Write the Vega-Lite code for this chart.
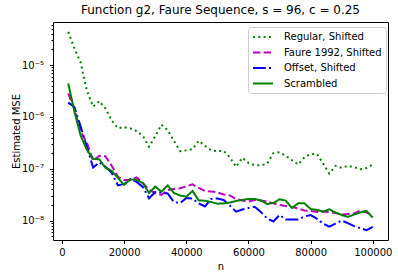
{
  "$schema": "https://vega.github.io/schema/vega-lite/v6.json",
  "width": 335,
  "height": 218,
  "autosize": {"type": "none"},
  "padding": {"left": 53, "top": 22, "right": 10, "bottom": 38},
  "background": "white",
  "title": {"text": "Function g2, Faure Sequence, s = 96, c = 0.25", "font": "DejaVu Sans", "fontSize": 12, "fontWeight": "normal", "color": "black", "offset": 5},
  "config": {
    "view": {"stroke": "black", "strokeWidth": 1},
    "axis": {"labelFont": "DejaVu Sans", "titleFont": "DejaVu Sans", "labelFontSize": 10, "titleFontSize": 10, "titleFontWeight": "normal", "labelColor": "black", "titleColor": "black", "tickColor": "black", "domain": false, "grid": false}
  },
  "data": {"values": [
    {"n":2000,"series":"Regular, Shifted","mse":4.36e-5},
    {"n":4000,"series":"Regular, Shifted","mse":2.1e-5},
    {"n":6000,"series":"Regular, Shifted","mse":1.12e-5},
    {"n":8000,"series":"Regular, Shifted","mse":3.23e-6},
    {"n":10000,"series":"Regular, Shifted","mse":1.58e-6},
    {"n":12000,"series":"Regular, Shifted","mse":2.02e-6},
    {"n":14000,"series":"Regular, Shifted","mse":1.45e-6},
    {"n":16000,"series":"Regular, Shifted","mse":8.48e-7},
    {"n":18000,"series":"Regular, Shifted","mse":6.07e-7},
    {"n":20000,"series":"Regular, Shifted","mse":6.34e-7},
    {"n":22000,"series":"Regular, Shifted","mse":6.01e-7},
    {"n":24000,"series":"Regular, Shifted","mse":5.31e-7},
    {"n":26000,"series":"Regular, Shifted","mse":4.34e-7},
    {"n":28000,"series":"Regular, Shifted","mse":2.66e-7},
    {"n":30000,"series":"Regular, Shifted","mse":4.25e-7},
    {"n":32000,"series":"Regular, Shifted","mse":7.09e-7},
    {"n":34000,"series":"Regular, Shifted","mse":5.55e-7},
    {"n":36000,"series":"Regular, Shifted","mse":3.47e-7},
    {"n":38000,"series":"Regular, Shifted","mse":2.19e-7},
    {"n":40000,"series":"Regular, Shifted","mse":2.27e-7},
    {"n":42000,"series":"Regular, Shifted","mse":2.38e-7},
    {"n":44000,"series":"Regular, Shifted","mse":3.47e-7},
    {"n":46000,"series":"Regular, Shifted","mse":2.78e-7},
    {"n":48000,"series":"Regular, Shifted","mse":2.27e-7},
    {"n":50000,"series":"Regular, Shifted","mse":2.19e-7},
    {"n":52000,"series":"Regular, Shifted","mse":2.22e-7},
    {"n":54000,"series":"Regular, Shifted","mse":1.66e-7},
    {"n":56000,"series":"Regular, Shifted","mse":1.09e-7},
    {"n":58000,"series":"Regular, Shifted","mse":1.63e-7},
    {"n":60000,"series":"Regular, Shifted","mse":1.3e-7},
    {"n":62000,"series":"Regular, Shifted","mse":1.17e-7},
    {"n":64000,"series":"Regular, Shifted","mse":1.17e-7},
    {"n":66000,"series":"Regular, Shifted","mse":1.24e-7},
    {"n":68000,"series":"Regular, Shifted","mse":1.99e-7},
    {"n":70000,"series":"Regular, Shifted","mse":2.08e-7},
    {"n":72000,"series":"Regular, Shifted","mse":1.78e-7},
    {"n":74000,"series":"Regular, Shifted","mse":1.46e-7},
    {"n":76000,"series":"Regular, Shifted","mse":1.21e-7},
    {"n":78000,"series":"Regular, Shifted","mse":1.66e-7},
    {"n":80000,"series":"Regular, Shifted","mse":1.92e-7},
    {"n":82000,"series":"Regular, Shifted","mse":1.94e-7},
    {"n":84000,"series":"Regular, Shifted","mse":1.27e-7},
    {"n":86000,"series":"Regular, Shifted","mse":8.07e-8},
    {"n":88000,"series":"Regular, Shifted","mse":1.14e-7},
    {"n":90000,"series":"Regular, Shifted","mse":1.04e-7},
    {"n":92000,"series":"Regular, Shifted","mse":1.14e-7},
    {"n":94000,"series":"Regular, Shifted","mse":1.07e-7},
    {"n":96000,"series":"Regular, Shifted","mse":9.82e-8},
    {"n":98000,"series":"Regular, Shifted","mse":1.03e-7},
    {"n":100000,"series":"Regular, Shifted","mse":1.21e-7},
    {"n":2000,"series":"Faure 1992, Shifted","mse":2.83e-6},
    {"n":4000,"series":"Faure 1992, Shifted","mse":1.39e-6},
    {"n":6000,"series":"Faure 1992, Shifted","mse":5.19e-7},
    {"n":8000,"series":"Faure 1992, Shifted","mse":3.18e-7},
    {"n":10000,"series":"Faure 1992, Shifted","mse":1.42e-7},
    {"n":12000,"series":"Faure 1992, Shifted","mse":1.78e-7},
    {"n":14000,"series":"Faure 1992, Shifted","mse":1.74e-7},
    {"n":16000,"series":"Faure 1992, Shifted","mse":1.14e-7},
    {"n":18000,"series":"Faure 1992, Shifted","mse":6.97e-8},
    {"n":20000,"series":"Faure 1992, Shifted","mse":6.09e-8},
    {"n":22000,"series":"Faure 1992, Shifted","mse":6.09e-8},
    {"n":24000,"series":"Faure 1992, Shifted","mse":6.81e-8},
    {"n":26000,"series":"Faure 1992, Shifted","mse":5.33e-8},
    {"n":28000,"series":"Faure 1992, Shifted","mse":3.9e-8},
    {"n":30000,"series":"Faure 1992, Shifted","mse":3.41e-8},
    {"n":32000,"series":"Faure 1992, Shifted","mse":3.12e-8},
    {"n":34000,"series":"Faure 1992, Shifted","mse":3.9e-8},
    {"n":36000,"series":"Faure 1992, Shifted","mse":4.08e-8},
    {"n":38000,"series":"Faure 1992, Shifted","mse":4.21e-8},
    {"n":40000,"series":"Faure 1992, Shifted","mse":4.56e-8},
    {"n":42000,"series":"Faure 1992, Shifted","mse":4.99e-8},
    {"n":44000,"series":"Faure 1992, Shifted","mse":4.26e-8},
    {"n":46000,"series":"Faure 1992, Shifted","mse":3.73e-8},
    {"n":48000,"series":"Faure 1992, Shifted","mse":3.65e-8},
    {"n":50000,"series":"Faure 1992, Shifted","mse":3.49e-8},
    {"n":52000,"series":"Faure 1992, Shifted","mse":3.19e-8},
    {"n":54000,"series":"Faure 1992, Shifted","mse":3.05e-8},
    {"n":56000,"series":"Faure 1992, Shifted","mse":2.61e-8},
    {"n":58000,"series":"Faure 1992, Shifted","mse":2.44e-8},
    {"n":60000,"series":"Faure 1992, Shifted","mse":2.33e-8},
    {"n":62000,"series":"Faure 1992, Shifted","mse":2.5e-8},
    {"n":64000,"series":"Faure 1992, Shifted","mse":2.44e-8},
    {"n":66000,"series":"Faure 1992, Shifted","mse":2.33e-8},
    {"n":68000,"series":"Faure 1992, Shifted","mse":2.15e-8},
    {"n":70000,"series":"Faure 1992, Shifted","mse":2.0e-8},
    {"n":72000,"series":"Faure 1992, Shifted","mse":1.91e-8},
    {"n":74000,"series":"Faure 1992, Shifted","mse":1.83e-8},
    {"n":76000,"series":"Faure 1992, Shifted","mse":1.71e-8},
    {"n":78000,"series":"Faure 1992, Shifted","mse":1.56e-8},
    {"n":80000,"series":"Faure 1992, Shifted","mse":1.53e-8},
    {"n":82000,"series":"Faure 1992, Shifted","mse":1.46e-8},
    {"n":84000,"series":"Faure 1992, Shifted","mse":1.48e-8},
    {"n":86000,"series":"Faure 1992, Shifted","mse":1.46e-8},
    {"n":88000,"series":"Faure 1992, Shifted","mse":1.4e-8},
    {"n":90000,"series":"Faure 1992, Shifted","mse":1.31e-8},
    {"n":92000,"series":"Faure 1992, Shifted","mse":1.34e-8},
    {"n":94000,"series":"Faure 1992, Shifted","mse":1.37e-8},
    {"n":96000,"series":"Faure 1992, Shifted","mse":1.56e-8},
    {"n":98000,"series":"Faure 1992, Shifted","mse":1.43e-8},
    {"n":100000,"series":"Faure 1992, Shifted","mse":1.28e-8},
    {"n":2000,"series":"Offset, Shifted","mse":1.89e-6},
    {"n":4000,"series":"Offset, Shifted","mse":1.55e-6},
    {"n":6000,"series":"Offset, Shifted","mse":6.49e-7},
    {"n":8000,"series":"Offset, Shifted","mse":2.66e-7},
    {"n":10000,"series":"Offset, Shifted","mse":1.06e-7},
    {"n":12000,"series":"Offset, Shifted","mse":1.33e-7},
    {"n":14000,"series":"Offset, Shifted","mse":1.09e-7},
    {"n":16000,"series":"Offset, Shifted","mse":8.33e-8},
    {"n":18000,"series":"Offset, Shifted","mse":4.77e-8},
    {"n":20000,"series":"Offset, Shifted","mse":5.1e-8},
    {"n":22000,"series":"Offset, Shifted","mse":6.37e-8},
    {"n":24000,"series":"Offset, Shifted","mse":5.57e-8},
    {"n":26000,"series":"Offset, Shifted","mse":4.46e-8},
    {"n":28000,"series":"Offset, Shifted","mse":2.69e-8},
    {"n":30000,"series":"Offset, Shifted","mse":3.57e-8},
    {"n":32000,"series":"Offset, Shifted","mse":3.49e-8},
    {"n":34000,"series":"Offset, Shifted","mse":3.34e-8},
    {"n":36000,"series":"Offset, Shifted","mse":2.28e-8},
    {"n":38000,"series":"Offset, Shifted","mse":2.18e-8},
    {"n":40000,"series":"Offset, Shifted","mse":2.73e-8},
    {"n":42000,"series":"Offset, Shifted","mse":2.67e-8},
    {"n":44000,"series":"Offset, Shifted","mse":2.14e-8},
    {"n":46000,"series":"Offset, Shifted","mse":1.87e-8},
    {"n":48000,"series":"Offset, Shifted","mse":2.61e-8},
    {"n":50000,"series":"Offset, Shifted","mse":2.67e-8},
    {"n":52000,"series":"Offset, Shifted","mse":2.5e-8},
    {"n":54000,"series":"Offset, Shifted","mse":1.95e-8},
    {"n":56000,"series":"Offset, Shifted","mse":1.49e-8},
    {"n":58000,"series":"Offset, Shifted","mse":1.63e-8},
    {"n":60000,"series":"Offset, Shifted","mse":1.75e-8},
    {"n":62000,"series":"Offset, Shifted","mse":1.85e-8},
    {"n":64000,"series":"Offset, Shifted","mse":1.46e-8},
    {"n":66000,"series":"Offset, Shifted","mse":1.1e-8},
    {"n":68000,"series":"Offset, Shifted","mse":9.6e-9},
    {"n":70000,"series":"Offset, Shifted","mse":1.28e-8},
    {"n":72000,"series":"Offset, Shifted","mse":1.05e-8},
    {"n":74000,"series":"Offset, Shifted","mse":1.05e-8},
    {"n":76000,"series":"Offset, Shifted","mse":1.05e-8},
    {"n":78000,"series":"Offset, Shifted","mse":1.2e-8},
    {"n":80000,"series":"Offset, Shifted","mse":1.28e-8},
    {"n":82000,"series":"Offset, Shifted","mse":1.09e-8},
    {"n":84000,"series":"Offset, Shifted","mse":8.75e-9},
    {"n":86000,"series":"Offset, Shifted","mse":7.65e-9},
    {"n":88000,"series":"Offset, Shifted","mse":8.75e-9},
    {"n":90000,"series":"Offset, Shifted","mse":1.0e-8},
    {"n":92000,"series":"Offset, Shifted","mse":8.94e-9},
    {"n":94000,"series":"Offset, Shifted","mse":7.82e-9},
    {"n":96000,"series":"Offset, Shifted","mse":7.16e-9},
    {"n":98000,"series":"Offset, Shifted","mse":6.55e-9},
    {"n":100000,"series":"Offset, Shifted","mse":7.58e-9},
    {"n":2000,"series":"Scrambled","mse":4.42e-6},
    {"n":4000,"series":"Scrambled","mse":1.27e-6},
    {"n":6000,"series":"Scrambled","mse":4.35e-7},
    {"n":8000,"series":"Scrambled","mse":2.32e-7},
    {"n":10000,"series":"Scrambled","mse":1.56e-7},
    {"n":12000,"series":"Scrambled","mse":1.52e-7},
    {"n":14000,"series":"Scrambled","mse":1.04e-7},
    {"n":16000,"series":"Scrambled","mse":9.1e-8},
    {"n":18000,"series":"Scrambled","mse":6.66e-8},
    {"n":20000,"series":"Scrambled","mse":4.88e-8},
    {"n":22000,"series":"Scrambled","mse":6.23e-8},
    {"n":24000,"series":"Scrambled","mse":6.09e-8},
    {"n":26000,"series":"Scrambled","mse":5.33e-8},
    {"n":28000,"series":"Scrambled","mse":3.41e-8},
    {"n":30000,"series":"Scrambled","mse":4.52e-8},
    {"n":32000,"series":"Scrambled","mse":3.61e-8},
    {"n":34000,"series":"Scrambled","mse":4.77e-8},
    {"n":36000,"series":"Scrambled","mse":3.41e-8},
    {"n":38000,"series":"Scrambled","mse":3.05e-8},
    {"n":40000,"series":"Scrambled","mse":2.89e-8},
    {"n":42000,"series":"Scrambled","mse":3.73e-8},
    {"n":44000,"series":"Scrambled","mse":2.44e-8},
    {"n":46000,"series":"Scrambled","mse":2.42e-8},
    {"n":48000,"series":"Scrambled","mse":2.28e-8},
    {"n":50000,"series":"Scrambled","mse":2.12e-8},
    {"n":52000,"series":"Scrambled","mse":2.14e-8},
    {"n":54000,"series":"Scrambled","mse":2.23e-8},
    {"n":56000,"series":"Scrambled","mse":2.39e-8},
    {"n":58000,"series":"Scrambled","mse":2.5e-8},
    {"n":60000,"series":"Scrambled","mse":2.61e-8},
    {"n":62000,"series":"Scrambled","mse":2.61e-8},
    {"n":64000,"series":"Scrambled","mse":2.44e-8},
    {"n":66000,"series":"Scrambled","mse":2.09e-8},
    {"n":68000,"series":"Scrambled","mse":2.18e-8},
    {"n":70000,"series":"Scrambled","mse":2.58e-8},
    {"n":72000,"series":"Scrambled","mse":2.42e-8},
    {"n":74000,"series":"Scrambled","mse":1.75e-8},
    {"n":76000,"series":"Scrambled","mse":2.15e-8},
    {"n":78000,"series":"Scrambled","mse":2.15e-8},
    {"n":80000,"series":"Scrambled","mse":1.67e-8},
    {"n":82000,"series":"Scrambled","mse":1.61e-8},
    {"n":84000,"series":"Scrambled","mse":1.49e-8},
    {"n":86000,"series":"Scrambled","mse":1.65e-8},
    {"n":88000,"series":"Scrambled","mse":1.43e-8},
    {"n":90000,"series":"Scrambled","mse":1.28e-8},
    {"n":92000,"series":"Scrambled","mse":1.18e-8},
    {"n":94000,"series":"Scrambled","mse":1.31e-8},
    {"n":96000,"series":"Scrambled","mse":1.43e-8},
    {"n":98000,"series":"Scrambled","mse":1.53e-8},
    {"n":100000,"series":"Scrambled","mse":1.14e-8}
  ]},
  "mark": {"type": "line", "strokeWidth": 2, "strokeCap": "butt", "clip": true},
  "encoding": {
    "x": {"field": "n", "type": "quantitative",
      "scale": {"domain": [-2900, 104900], "nice": false, "zero": false},
      "axis": {"values": [0, 20000, 40000, 60000, 80000, 100000], "format": "d", "tickSize": 3.5, "labelPadding": 3.5, "title": "n", "titlePadding": 4}},
    "y": {"field": "mse", "type": "quantitative",
      "scale": {"type": "log", "domain": [4.22e-9, 6.78e-5], "nice": false, "zero": false},
      "axis": {"title": "Estimated MSE", "titlePadding": 0, "labelPadding": 6,
        "values": [5e-9, 6e-9, 7e-9, 8e-9, 9e-9, 1e-8, 2e-8, 3e-8, 4e-8, 5e-8, 6e-8, 7e-8, 8e-8, 9e-8, 1e-7, 2e-7, 3e-7, 4e-7, 5e-7, 6e-7, 7e-7, 8e-7, 9e-7, 1e-6, 2e-6, 3e-6, 4e-6, 5e-6, 6e-6, 7e-6, 8e-6, 9e-6, 1e-5, 2e-5, 3e-5, 4e-5, 5e-5, 6e-5],
        "tickSize": {"condition": {"test": "abs(log(datum.value)/LN10 - round(log(datum.value)/LN10)) < 0.001", "value": 3.5}, "value": 2},
        "labelExpr": "abs(log(datum.value)/LN10 - round(log(datum.value)/LN10)) < 0.001 ? '10' + replace(replace(replace(replace(replace('' + round(log(datum.value)/LN10), '-', '⁻'), '5', '⁵'), '6', '⁶'), '7', '⁷'), '8', '⁸') : ''"}},
    "color": {"field": "series", "type": "nominal",
      "scale": {"domain": ["Regular, Shifted", "Faure 1992, Shifted", "Offset, Shifted", "Scrambled"], "range": ["#008000", "#bf00bf", "#0000ff", "#008000"]},
      "legend": {"title": null, "orient": "none", "legendX": 195, "legendY": 5, "strokeColor": "#cccccc", "fillColor": "white", "cornerRadius": 3, "padding": 4, "symbolType": "M-1,0H3", "symbolSize": 100, "symbolStrokeWidth": 2, "labelFont": "DejaVu Sans", "labelFontSize": 10, "labelColor": "black", "labelOffset": 20, "rowPadding": 4.5}},
    "strokeDash": {"field": "series", "type": "nominal",
      "scale": {"domain": ["Regular, Shifted", "Faure 1992, Shifted", "Offset, Shifted", "Scrambled"], "range": [[2, 3.3], [7.4, 3.2], [12.8, 3.2, 2, 3.2], [1, 0]]},
      "legend": {"title": null, "orient": "none", "legendX": 195, "legendY": 5, "strokeColor": "#cccccc", "fillColor": "white", "cornerRadius": 3, "padding": 4, "symbolType": "M-1,0H3", "symbolSize": 100, "symbolStrokeWidth": 2, "labelFont": "DejaVu Sans", "labelFontSize": 10, "labelColor": "black", "labelOffset": 20, "rowPadding": 4.5}}
  }
}
